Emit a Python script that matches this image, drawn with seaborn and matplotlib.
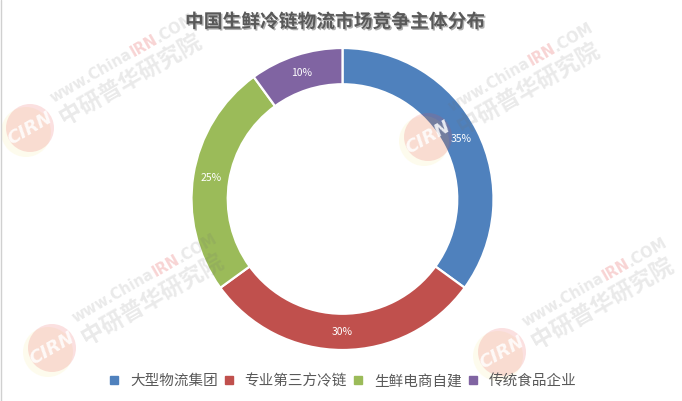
import numpy as np
import matplotlib
matplotlib.use("Agg")
import matplotlib.pyplot as plt
import matplotlib.patheffects as pe
import matplotlib.transforms as mtransforms
from matplotlib.patches import Circle
from matplotlib.lines import Line2D
import seaborn as sns

# ---- data ----
categories = ["大型物流集团", "专业第三方冷链", "生鲜电商自建", "传统食品企业"]
shares = [35, 30, 25, 10]
colors = ["#4F81BD", "#C0504D", "#9BBB59", "#8064A2"]
title = "中国生鲜冷链物流市场竞争主体分布"

sns.set_theme(style="white")
plt.rcParams["font.family"] = ["Noto Sans CJK SC", "DejaVu Sans"]
palette = sns.color_palette(colors)

W, H = 682, 401
fig = plt.figure(figsize=(W / 100, H / 100), dpi=100)
fig.patch.set_facecolor("white")

# donut axes: centre (342.5, 199 from top), outer radius 151 px
cx, cy_top, R = 342.5, 199, 151
ax = fig.add_axes([(cx - R) / W, (H - cy_top - R) / H, 2 * R / W, 2 * R / H])
wedges, texts, autotexts = ax.pie(
    shares,
    colors=palette,
    startangle=90,
    counterclock=False,
    radius=1.0,
    autopct=lambda p: f"{p:.0f}%",
    pctdistance=0.88,
    wedgeprops=dict(width=0.24, edgecolor="white", linewidth=1.6),
    textprops=dict(color="white", fontsize=7.5),
)
ax.set_xlim(-1, 1)
ax.set_ylim(-1, 1)
ax.set_aspect("equal")
ax.axis("off")

# title with soft drop shadow
fig.text(335 / W, 1 - 22 / H, title, ha="center", va="center",
         fontsize=13.5, fontweight="bold", color="#595959",
         path_effects=[pe.SimplePatchShadow(offset=(1.0, -1.0), shadow_rgbFace="#a6a6a6", alpha=0.9),
                       pe.Normal()])

# legend with square markers
handles = [Line2D([0], [0], marker="s", linestyle="none", markersize=5.5,
                  markerfacecolor=c, markeredgecolor=c) for c in colors]
fig.legend(handles, categories, loc="center", bbox_to_anchor=(343 / W, 1 - 381 / H),
           ncol=4, frameon=False, fontsize=10.5, handlelength=0.6,
           handletextpad=0.8, columnspacing=0.45, labelcolor="#595959")

# thin left border
fig.add_artist(Line2D([0.5 / W, 0.5 / W], [0, 1], transform=fig.transFigure,
                      color="#d0d0d0", linewidth=1))

# ---- faint site watermarks ----
ident = mtransforms.IdentityTransform()
renderer = fig.canvas.get_renderer()


def text_width(s, **kw):
    t = fig.text(0, 0, s, **kw)
    w = t.get_window_extent(renderer).width
    t.remove()
    return w


def watermark(x, y_top):
    ang = np.deg2rad(30)
    u = np.array([np.cos(ang), np.sin(ang)])
    n = np.array([-np.sin(ang), np.cos(ang)])
    c = np.array([x, H - y_top])
    fig.add_artist(Circle(c + (-4, -4), 25, transform=ident,
                          facecolor="#f2dc3c", edgecolor="none", alpha=0.09))
    fig.add_artist(Circle(c, 24, transform=ident,
                          facecolor="#e8484a", edgecolor="none", alpha=0.17))
    fig.text(c[0], c[1], "CIRN", transform=ident, rotation=30,
             rotation_mode="anchor", ha="center", va="center",
             fontsize=13, fontweight="bold", fontstyle="italic",
             color="white", alpha=0.85, family="DejaVu Sans")
    p = c + 31 * u - 9 * n
    fig.text(p[0], p[1], "中研普华研究院", transform=ident, rotation=30,
             rotation_mode="anchor", ha="left", va="center",
             fontsize=16.5, fontweight="bold", color="#707070", alpha=0.15)
    kw = dict(fontsize=10.5, fontweight="bold", family="DejaVu Sans")
    p = c + 33 * u + 14 * n
    for s, col, a in [("www.China", "#707070", 0.15), ("IRN", "#e03a3a", 0.22),
                      (".COM", "#707070", 0.15)]:
        fig.text(p[0], p[1], s, transform=ident, rotation=30,
                 rotation_mode="anchor", ha="left", va="center",
                 color=col, alpha=a, **kw)
        p = p + text_width(s, **kw) * u


for wx, wy in [(30, 128), (52, 348), (428, 137), (502, 352)]:
    watermark(wx, wy)

fig.savefig("out.png", dpi=100, facecolor="white")
